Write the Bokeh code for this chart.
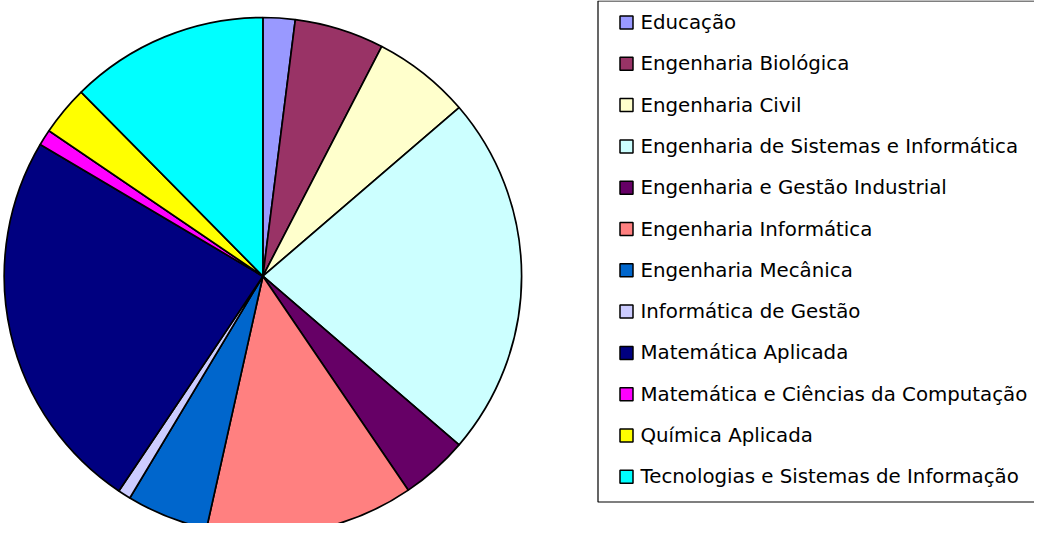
import numpy as np
from bokeh.plotting import figure
from bokeh.models import Range1d, ColumnDataSource
from bokeh.core.properties import value
from bokeh.embed import file_html
from bokeh.resources import INLINE

categories = [
    "Educação",
    "Engenharia Biológica",
    "Engenharia Civil",
    "Engenharia de Sistemas e Informática",
    "Engenharia e Gestão Industrial",
    "Engenharia Informática",
    "Engenharia Mecânica",
    "Informática de Gestão",
    "Matemática Aplicada",
    "Matemática e Ciências da Computação",
    "Química Aplicada",
    "Tecnologias e Sistemas de Informação",
]
values = [2.0, 5.6, 6.1, 22.6, 4.2, 13.0, 5.1, 0.8, 24.1, 1.0, 3.1, 12.4]
colors = ["#9999FF", "#993366", "#FFFFCC", "#CCFFFF", "#660066", "#FF8080",
          "#0066CC", "#CCCCFF", "#000080", "#FF00FF", "#FFFF00", "#00FFFF"]

W, H = 1034, 523
PAGE_H = 539

def py(y_pix):
    return PAGE_H - y_pix

p = figure(width=W, height=H, x_range=Range1d(8, 8 + W), y_range=Range1d(8, 8 + H),
           output_backend="svg", toolbar_location=None, min_border=0,
           x_axis_location=None, y_axis_location=None)
p.grid.visible = False
p.outline_line_color = None
p.background_fill_color = "white"
p.border_fill_color = "white"

vals = np.array(values, dtype=float)
frac = vals / vals.sum()
cum = np.cumsum(frac)
prev = cum - frac
src = ColumnDataSource(dict(
    start=np.pi / 2 - 2 * np.pi * cum,
    end=np.pi / 2 - 2 * np.pi * prev,
    color=colors,
    cat=categories,
))
p.wedge(x=270.4, y=py(283.7), radius=258.7, start_angle="start", end_angle="end",
        direction="anticlock", fill_color="color", line_color="black", line_width=1.7,
        source=src)

# legend box
p.quad(left=605.5, right=1200, top=py(8.5), bottom=py(509.5),
       fill_color="white", line_color="black", line_width=1.2)

ys = [py(30 + i * 41.3) for i in range(len(categories))]
lsrc = ColumnDataSource(dict(y=ys, cat=categories, color=colors))
p.scatter(x=634, y="y", marker="square", size=13, fill_color="color",
          line_color="black", line_width=1.5, source=lsrc)
p.text(x=648, y="y", text="cat", text_font=value("DejaVu Sans"), text_font_size="19.8px",
       text_baseline="middle", text_align="left", text_color="black", source=lsrc)

open("out.html", "w").write(file_html(p, INLINE))
